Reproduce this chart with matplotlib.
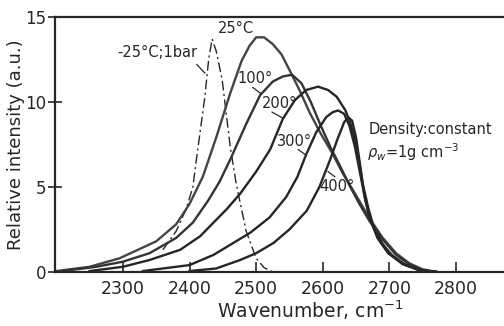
import numpy as np
import matplotlib
matplotlib.use("Agg")
import matplotlib.pyplot as plt

# curves: wavenumber (cm-1), relative intensity
wn_m25 = [2360, 2380, 2395, 2405, 2413, 2423, 2429, 2434, 2440, 2449, 2461, 2470, 2485, 2500, 2512, 2525]
int_m25 = [1.3, 2.4, 3.7, 5.0, 7.4, 10.3, 12.6, 13.7, 13.0, 11.3, 7.4, 5.2, 2.4, 0.8, 0.25, 0.0]

wn_25 = [2200, 2250, 2295, 2350, 2380, 2400, 2420, 2440, 2461, 2478, 2490, 2500, 2512, 2525, 2538,
         2551, 2565, 2580, 2596, 2614, 2630, 2650, 2671, 2690, 2710, 2730, 2750, 2770]
int_25 = [0.05, 0.3, 0.8, 1.8, 2.8, 4.0, 5.6, 7.9, 10.5, 12.4, 13.3, 13.8, 13.8, 13.4, 12.8,
          11.8, 10.7, 9.4, 8.2, 7.0, 5.8, 4.5, 3.1, 2.0, 1.1, 0.5, 0.15, 0.0]

wn_100 = [2210, 2260, 2300, 2340, 2380, 2405, 2428, 2445, 2461, 2485, 2506, 2525, 2540, 2554, 2568,
          2582, 2597, 2612, 2625, 2640, 2655, 2670, 2690, 2710, 2730, 2750, 2770]
int_100 = [0.05, 0.3, 0.6, 1.1, 2.0, 2.9, 4.2, 5.3, 6.6, 8.7, 10.4, 11.2, 11.5, 11.6, 11.1,
           10.0, 8.6, 7.3, 6.3, 5.1, 4.0, 3.0, 1.9, 1.0, 0.45, 0.1, 0.0]

wn_200 = [2250, 2300, 2340, 2386, 2416, 2436, 2456, 2476, 2500, 2521, 2540, 2558, 2575, 2593, 2608,
          2621, 2634, 2641, 2648, 2654, 2660, 2668, 2676, 2690, 2706, 2725, 2746, 2770]
int_200 = [0.05, 0.3, 0.7, 1.3, 2.1, 2.9, 3.7, 4.6, 5.9, 7.2, 9.0, 10.1, 10.7, 10.9, 10.7,
           10.3, 9.5, 8.8, 7.8, 6.6, 5.2, 3.8, 2.7, 1.6, 0.9, 0.4, 0.1, 0.0]

wn_300 = [2330, 2400, 2436, 2491, 2520, 2545, 2562, 2575, 2590, 2605, 2615, 2623, 2632, 2640, 2648,
          2656, 2664, 2672, 2685, 2700, 2720, 2745, 2770]
int_300 = [0.05, 0.4, 1.0, 2.3, 3.2, 4.4, 5.6, 6.9, 8.2, 9.1, 9.4, 9.5, 9.3, 8.6, 7.4,
           5.8, 4.2, 3.0, 1.9, 1.1, 0.5, 0.1, 0.0]

wn_400 = [2400, 2440, 2476, 2500, 2526, 2550, 2576, 2595, 2611, 2622, 2632, 2638, 2644, 2650, 2656,
          2662, 2670, 2682, 2698, 2720, 2745, 2770]
int_400 = [0.05, 0.2, 0.7, 1.1, 1.7, 2.5, 3.6, 5.0, 6.6, 7.8, 8.8, 9.1, 8.9, 7.9, 6.3,
           4.6, 3.2, 2.0, 1.1, 0.45, 0.1, 0.0]

x_ticks = [2300, 2400, 2500, 2600, 2700, 2800]
y_ticks = [0, 5, 10, 15]

# curve labels and the short leader strokes under them
labels = ["-25°C;1bar", "25°C", "100°", "200°", "300°", "400°"]
label_x = [2351, 2470, 2498, 2535, 2557, 2622]
label_y = [12.9, 14.3, 11.4, 9.9, 7.7, 5.0]
leaders = [((2411, 2423), (12.2, 11.7)),
           ((2495, 2507), (10.85, 10.5)),
           ((2524, 2540), (9.4, 9.05)),
           ((2563, 2574), (7.2, 6.9)),
           ((2608, 2618), (5.9, 5.6))]

ink = "#262626"

fig = plt.figure(figsize=(5.04, 3.26), dpi=100)
ax = fig.add_axes([0.109, 0.166, 0.891, 0.782])

ax.plot(wn_m25, int_m25, color=ink, lw=1.0, dashes=(7, 2.5, 1.5, 2.5))
ax.plot(wn_25, int_25, color="#444444", lw=1.7)
ax.plot(wn_100, int_100, color="#333333", lw=1.7)
ax.plot(wn_200, int_200, color=ink, lw=1.7)
ax.plot(wn_300, int_300, color=ink, lw=1.7)
ax.plot(wn_400, int_400, color=ink, lw=1.7)

for txt, lx, ly in zip(labels, label_x, label_y):
    ax.text(lx, ly, txt, fontsize=10.5, ha="center", va="center", color=ink)
for (xs, ys) in leaders:
    ax.plot(xs, ys, color=ink, lw=0.9)

ax.text(2669, 8.35, "Density:constant", fontsize=10.5, ha="left", va="center", color=ink)
ax.text(2667, 7.05, r"$\rho_w$=1g cm$^{-3}$", fontsize=10.5, ha="left", va="center", color=ink)

ax.set_xlim(2198, 2872)
ax.set_ylim(0, 15)
ax.set_xticks(x_ticks)
ax.set_yticks(y_ticks)
ax.tick_params(colors=ink, width=1.2)
ax.tick_params(axis="x", direction="in", length=7, pad=6, labelsize=12.5)
ax.tick_params(axis="y", direction="inout", length=10, pad=1, labelsize=12)

for s in ["left", "bottom", "top"]:
    ax.spines[s].set_linewidth(1.6)
    ax.spines[s].set_color(ink)
ax.spines["right"].set_visible(False)

ax.set_ylabel("Relative intensity (a.u.)", fontsize=13, color=ink)
ax.set_xlabel(r"Wavenumber, cm$^{-1}$", fontsize=13.5, color=ink)
ax.yaxis.set_label_coords(-0.066, 0.5)
ax.xaxis.set_label_coords(0.568, -0.105)

fig.savefig("out.png", dpi=100)
